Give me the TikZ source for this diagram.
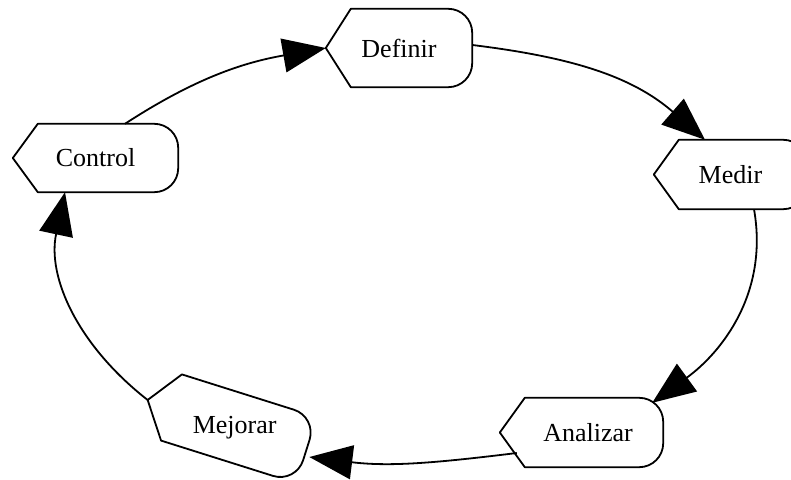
\documentclass[tikz,border=0pt]{standalone}
\usepackage{fontspec}
\setmainfont{Liberation Serif}
\usetikzlibrary{calc,arrows.meta}

\tikzset{
  etapa/.style={inner sep=0pt, font=\fontsize{26pt}{30pt}\selectfont},
  borde/.style={line width=1.8pt, line join=round},
  flecha/.style={line width=1.8pt, -{Triangle[length=43pt,width=34pt]}}
}

% Contorno de cada etapa: punta a la izquierda, extremo redondeado a la derecha
\newcommand{\contorno}[2]{%
  \draw[borde] (#1.west)
  -- ($(#1.north west)!25pt!(#1.north east)$)
  -- ($(#1.north east)!24pt!(#1.north west)$)
  arc[start angle=90+#2, end angle=#2, radius=24pt]
  -- ($(#1.south east)!24pt!(#1.north east)$)
  arc[start angle=#2, end angle=-90+#2, radius=24pt]
  -- ($(#1.south west)!25pt!(#1.south east)$)
  -- cycle;}

\begin{document}
\begin{tikzpicture}[x=1pt, y=1pt]

\useasboundingbox (0,0) rectangle (791,479);

\node[etapa, minimum width=146pt, minimum height=78pt] (defi) at (399,431) {Definir};
\node[etapa, minimum width=153pt, minimum height=69pt] (medi) at (730.5,304.5) {Medir};
\node[etapa, minimum width=163pt, minimum height=69pt] (anal) at (581.5,46.5) {\hspace*{13pt}Analizar};
\node[etapa, minimum width=166pt, minimum height=69pt, rotate=-17.5] (mejo) at (227,54) {\hspace*{16pt}\rotatebox{17.5}{Mejorar}};
\node[etapa, minimum width=165pt, minimum height=68pt] (ctrl) at (95.5,321) {Control};

\contorno{defi}{0}
\contorno{medi}{0}
\contorno{anal}{0}
\contorno{mejo}{-17.5}
\contorno{ctrl}{0}

% Ciclo de flechas
\draw[flecha] ([xshift=29.5pt]ctrl.north) to[out=33, in=190] (defi.west);
\draw[flecha] ([yshift=3pt]defi.east) to[out=-7, in=139] ([xshift=-25.5pt]medi.north);
\draw[flecha] ([xshift=23.5pt]medi.south) to[out=-80, in=36] ([shift={(-11pt,-5pt)}]anal.north east);
\draw[flecha] ([shift={(17pt,-20.5pt)}]anal.west) to[out=187, in=-7] ([shift={(3pt,-7pt)}]mejo.east);
\draw[flecha] (mejo.west) to[out=142, in=258] ([xshift=-30.5pt]ctrl.south);

\end{tikzpicture}
\end{document}
